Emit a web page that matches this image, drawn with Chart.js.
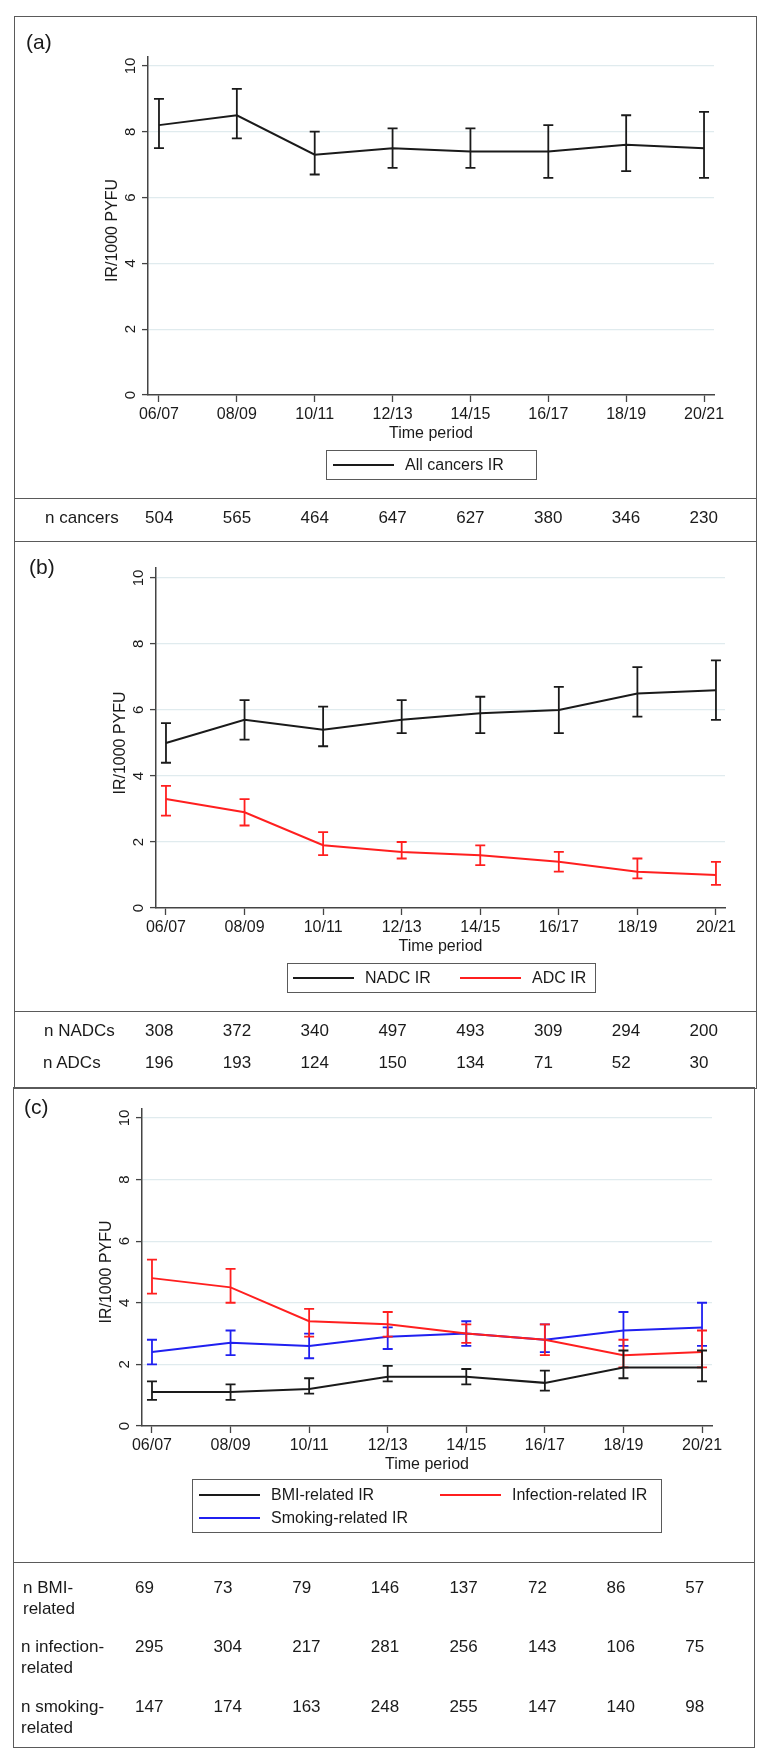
<!DOCTYPE html>
<html>
<head>
<meta charset="utf-8">
<script src="https://cdn.jsdelivr.net/npm/chart.js@4.4.1/dist/chart.umd.min.js"></script>
<style>
body { margin: 0; background: #fff; font-family: "Liberation Sans", Arial, sans-serif; color: #1a1a1a; }
#page { position: relative; width: 771px; height: 1763px; overflow: hidden; }
canvas { position: absolute; left: 0; }
.box { position: absolute; border: 1.5px solid #5a5a5a; box-sizing: border-box; }
.hline { position: absolute; height: 0; border-top: 1.5px solid #5a5a5a; }
.tag { position: absolute; font-size: 21px; line-height: 24px; transform: translateY(-50%); }
.cell { position: absolute; font-size: 17px; line-height: 21px; white-space: nowrap; }
.legend { position: absolute; border: 1.5px solid #5a5a5a; box-sizing: border-box; background: #fff; }
.key { position: absolute; height: 0; border-top: 2px solid; }
.ltxt { position: absolute; font-size: 16px; line-height: 20px; white-space: nowrap; transform: translateY(-50%); }
</style>
</head>
<body>
<div id="page">
  <canvas id="chartA"></canvas>
  <canvas id="chartB"></canvas>
  <canvas id="chartC"></canvas>
</div>
<script>
// data
const periods = ['06/07', '08/09', '10/11', '12/13', '14/15', '16/17', '18/19', '20/21'];
const yTicks = [0, 2, 4, 6, 8, 10];

const allIR = [8.2, 8.5, 7.3, 7.5, 7.4, 7.4, 7.6, 7.5];
const allLo = [7.5, 7.8, 6.7, 6.9, 6.9, 6.6, 6.8, 6.6];
const allHi = [9.0, 9.3, 8.0, 8.1, 8.1, 8.2, 8.5, 8.6];
const nCancers = [504, 565, 464, 647, 627, 380, 346, 230];

const nadcIR = [5.0, 5.7, 5.4, 5.7, 5.9, 6.0, 6.5, 6.6];
const nadcLo = [4.4, 5.1, 4.9, 5.3, 5.3, 5.3, 5.8, 5.7];
const nadcHi = [5.6, 6.3, 6.1, 6.3, 6.4, 6.7, 7.3, 7.5];
const adcIR = [3.3, 2.9, 1.9, 1.7, 1.6, 1.4, 1.1, 1.0];
const adcLo = [2.8, 2.5, 1.6, 1.5, 1.3, 1.1, 0.9, 0.7];
const adcHi = [3.7, 3.3, 2.3, 2.0, 1.9, 1.7, 1.5, 1.4];
const nNADC = [308, 372, 340, 497, 493, 309, 294, 200];
const nADC = [196, 193, 124, 150, 134, 71, 52, 30];

const bmiIR = [1.1, 1.1, 1.2, 1.6, 1.6, 1.4, 1.9, 1.9];
const bmiLo = [0.85, 0.85, 1.05, 1.45, 1.35, 1.15, 1.55, 1.45];
const bmiHi = [1.45, 1.35, 1.55, 1.95, 1.85, 1.8, 2.45, 2.45];
const infIR = [4.8, 4.5, 3.4, 3.3, 3.0, 2.8, 2.3, 2.4];
const infLo = [4.3, 4.0, 2.9, 2.9, 2.7, 2.3, 1.9, 1.9];
const infHi = [5.4, 5.1, 3.8, 3.7, 3.3, 3.3, 2.8, 3.1];
const smkIR = [2.4, 2.7, 2.6, 2.9, 3.0, 2.8, 3.1, 3.2];
const smkLo = [2.0, 2.3, 2.2, 2.5, 2.6, 2.4, 2.6, 2.6];
const smkHi = [2.8, 3.1, 3.0, 3.2, 3.4, 3.3, 3.7, 4.0];
const nBMI = [69, 73, 79, 146, 137, 72, 86, 57];
const nInf = [295, 304, 217, 281, 256, 143, 106, 75];
const nSmk = [147, 174, 163, 248, 255, 147, 140, 98];

const FONT = '"Liberation Sans", Arial, sans-serif';
const INK = '#1a1a1a';
const AXIS = '#444';
const BLACK = '#1a1a1a', RED = '#ff1f1f', BLUE = '#2020f0';
Chart.defaults.font.family = FONT;

const page = document.getElementById('page');

function add(cls, css, text) {
    const d = document.createElement('div');
    d.className = cls;
    Object.assign(d.style, css);
    if (text !== undefined) d.textContent = text;
    page.appendChild(d);
    return d;
}

// error bars under each line, y tick labels and y title
const decor = {
    id: 'decor',
    beforeDatasetDraw(chart, args) {
        const ds = chart.data.datasets[args.index];
        const xs = chart.scales.x, ys = chart.scales.y, ctx = chart.ctx;
        ctx.save();
        ctx.strokeStyle = ds.borderColor;
        ctx.lineWidth = 1.8;
        ds.lo.forEach((lo, i) => {
            const px = xs.getPixelForValue(i);
            const p1 = ys.getPixelForValue(lo), p2 = ys.getPixelForValue(ds.hi[i]);
            ctx.beginPath();
            ctx.moveTo(px, p1); ctx.lineTo(px, p2);
            ctx.moveTo(px - 5, p1); ctx.lineTo(px + 5, p1);
            ctx.moveTo(px - 5, p2); ctx.lineTo(px + 5, p2);
            ctx.stroke();
        });
        ctx.restore();
    },
    afterDraw(chart) {
        const ys = chart.scales.y, ctx = chart.ctx, left = chart.chartArea.left;
        ctx.save();
        ctx.fillStyle = INK;
        ctx.textAlign = 'center';
        ctx.textBaseline = 'middle';
        ctx.font = '15px ' + FONT;
        yTicks.forEach(v => {
            ctx.save();
            ctx.translate(left - 17, ys.getPixelForValue(v));
            ctx.rotate(-Math.PI / 2);
            ctx.fillText(String(v), 0, 0);
            ctx.restore();
        });
        ctx.font = '16px ' + FONT;
        ctx.translate(left - 35, ys.getPixelForValue(5));
        ctx.rotate(-Math.PI / 2);
        ctx.fillText('IR/1000 PYFU', 0, 0);
        ctx.restore();
    }
};

function makePanel(id, top, height, area, xMin, xMax, yMax, series) {
    const canvas = document.getElementById(id);
    canvas.width = 771;
    canvas.height = height;
    canvas.style.top = top + 'px';
    const axisH = 48;
    return new Chart(canvas, {
        type: 'line',
        data: {
            datasets: series.map(s => ({
                data: s.ir.map((v, i) => ({ x: i, y: v })),
                lo: s.lo,
                hi: s.hi,
                borderColor: s.color,
                borderWidth: 2,
                pointRadius: 0,
                tension: 0,
                fill: false
            }))
        },
        options: {
            responsive: false,
            animation: false,
            devicePixelRatio: 1,
            layout: { padding: { left: 0, top: area.top - top, right: 771 - area.right, bottom: top + height - area.bottom - axisH } },
            plugins: { legend: { display: false }, tooltip: { enabled: false } },
            scales: {
                x: {
                    type: 'linear', min: xMin, max: xMax,
                    afterBuildTicks: s => { s.ticks = periods.map((p, i) => ({ value: i })); },
                    afterFit: s => { s.height = axisH; },
                    ticks: { callback: v => periods[v], color: INK, font: { size: 16 }, padding: 3, maxRotation: 0, autoSkip: false },
                    grid: { drawOnChartArea: false, drawTicks: true, tickLength: 7, tickColor: AXIS, tickWidth: 1.3 },
                    border: { color: AXIS, width: 1.5 },
                    title: { display: true, text: 'Time period', color: INK, font: { size: 16 }, padding: 0 }
                },
                y: {
                    type: 'linear', min: 0, max: yMax,
                    afterBuildTicks: s => { s.ticks = yTicks.map(v => ({ value: v })); },
                    afterFit: s => { s.width = area.left; },
                    ticks: { display: false },
                    grid: {
                        color: c => (c.tick && c.tick.value === 0) ? 'rgba(0,0,0,0)' : '#e0ebee',
                        lineWidth: 1.2, drawTicks: true, tickLength: 6, tickColor: AXIS, tickWidth: 1.3
                    },
                    border: { color: AXIS, width: 1.5 }
                }
            }
        },
        plugins: [decor]
    });
}

makePanel('chartA', 20, 478, { left: 148, right: 714, top: 57, bottom: 395 }, -0.141, 7.128, 10.27, [
    { ir: allIR, lo: allLo, hi: allHi, color: BLACK }
]);
makePanel('chartB', 545, 465, { left: 156, right: 725, top: 568, bottom: 908 }, -0.127, 7.115, 10.3, [
    { ir: nadcIR, lo: nadcLo, hi: nadcHi, color: BLACK },
    { ir: adcIR, lo: adcLo, hi: adcHi, color: RED }
]);
makePanel('chartC', 1091, 470, { left: 142, right: 712, top: 1109, bottom: 1426 }, -0.127, 7.127, 10.29, [
    { ir: bmiIR, lo: bmiLo, hi: bmiHi, color: BLACK },
    { ir: infIR, lo: infLo, hi: infHi, color: RED },
    { ir: smkIR, lo: smkLo, hi: smkHi, color: BLUE }
]);

// frames and separators
add('box', { left: '14px', top: '16px', width: '743px', height: '1073px' });
add('box', { left: '13px', top: '1087px', width: '742px', height: '661px' });
add('hline', { left: '14px', top: '498px', width: '743px' });
add('hline', { left: '14px', top: '541px', width: '743px' });
add('hline', { left: '14px', top: '1011px', width: '743px' });
add('hline', { left: '13px', top: '1562px', width: '742px' });

// panel tags
add('tag', { left: '26px', top: '42px' }, '(a)');
add('tag', { left: '29px', top: '567px' }, '(b)');
add('tag', { left: '24px', top: '1107px' }, '(c)');

// legends
function legend(box, items) {
    add('legend', { left: box[0] + 'px', top: box[1] + 'px', width: box[2] + 'px', height: box[3] + 'px' });
    items.forEach(it => {
        add('key', { left: it.x + 'px', top: (it.y - 1) + 'px', width: '61px', borderTopColor: it.color });
        add('ltxt', { left: (it.x + 72) + 'px', top: it.y + 'px' }, it.text);
    });
}
legend([326, 450, 211, 30], [{ x: 333, y: 465, color: BLACK, text: 'All cancers IR' }]);
legend([287, 963, 309, 30], [
    { x: 293, y: 978, color: BLACK, text: 'NADC IR' },
    { x: 460, y: 978, color: RED, text: 'ADC IR' }
]);
legend([192, 1479, 470, 54], [
    { x: 199, y: 1495, color: BLACK, text: 'BMI-related IR' },
    { x: 440, y: 1495, color: RED, text: 'Infection-related IR' },
    { x: 199, y: 1518, color: BLUE, text: 'Smoking-related IR' }
]);

// count tables
function tableRow(label, values, labelX, y, colX) {
    add('cell', { left: labelX + 'px', top: (y - 10.5) + 'px' }, '').innerHTML = label;
    values.forEach((v, i) => add('cell', { left: colX(i) + 'px', top: (y - 10.5) + 'px' }, String(v)));
}
const colAB = i => 145 + i * 77.8;
const colC = i => 135 + i * 78.6;
tableRow('n cancers', nCancers, 45, 517, colAB);
tableRow('n NADCs', nNADC, 44, 1030, colAB);
tableRow('n ADCs', nADC, 43, 1062, colAB);
tableRow('n BMI-<br>related', nBMI, 23, 1587, colC);
tableRow('n infection-<br>related', nInf, 21, 1646, colC);
tableRow('n smoking-<br>related', nSmk, 21, 1706, colC);
</script>
</body>
</html>
